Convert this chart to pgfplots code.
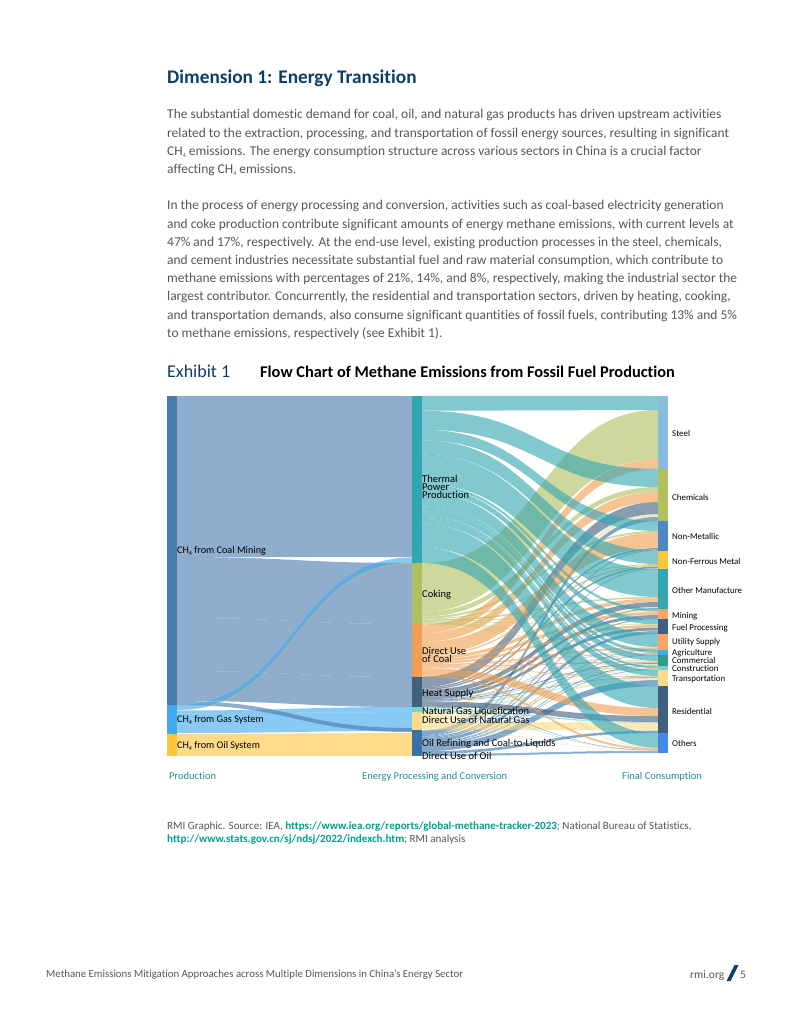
\documentclass[border=0pt]{standalone}
\usepackage{fontspec}
\setmainfont[Ligatures=NoCommon]{Carlito}
\usepackage{pgfplots}
\pgfplotsset{compat=1.18}

% node colours
\definecolor{cCoalM}{HTML}{4A7BAD}
\definecolor{cGas}{HTML}{3FAAEE}
\definecolor{cOil}{HTML}{FFC53D}
\definecolor{cTherm}{HTML}{33A6B2}
\definecolor{cCoke}{HTML}{B0BF60}
\definecolor{cCoal}{HTML}{F0A050}
\definecolor{cHeat}{HTML}{406080}
\definecolor{cLng}{HTML}{7CD0D0}
\definecolor{cDng}{HTML}{F8DC8C}
\definecolor{cRef}{HTML}{3872A8}
\definecolor{cDoil}{HTML}{3B82C4}
\definecolor{cSteel}{HTML}{8ABBDD}
\definecolor{cNonM}{HTML}{4F88BF}
\definecolor{cMining}{HTML}{F8A868}
\definecolor{cUtil}{HTML}{FFA566}
\definecolor{cComm}{HTML}{339A90}
\definecolor{cOthers}{HTML}{4488EE}
\definecolor{navy}{HTML}{0F3D66}
\definecolor{bodygray}{HTML}{55565A}
\definecolor{tealtxt}{HTML}{1F8F8F}
\definecolor{linktxt}{HTML}{00A08A}

% ribbon: x0 x1 left-top left-bottom right-top right-bottom colour
\newcommand{\ribbon}[7]{%
  \pgfmathsetmacro\xm{(#1+#2)/2}%
  \edef\flowtmp{\noexpand\addplot[fill=#7, fill opacity=0.62, draw=none] coordinates {(#1,#3)}
    .. controls (axis cs:\xm,#3) and (axis cs:\xm,#5) .. (axis cs:#2,#5)
    -- (axis cs:#2,#6) .. controls (axis cs:\xm,#6) and (axis cs:\xm,#4) .. (axis cs:#1,#4) -- cycle;}%
  \flowtmp}

% stacked flow, middle to right column, piled up from the bottom of each node:
% source target thickness colour
\newcommand{\flow}[4]{%
  \pgfmathsetmacro\aB{\csname s#1\endcsname}%
  \pgfmathsetmacro\aT{\aB-#3*\csname k#1\endcsname}%
  \pgfmathsetmacro\bB{\csname t#2\endcsname}%
  \pgfmathsetmacro\bT{\bB-#3}%
  \expandafter\xdef\csname s#1\endcsname{\aT}%
  \expandafter\xdef\csname t#2\endcsname{\bT}%
  \ribbon{422}{658}{\aT}{\aB}{\bT}{\bB}{#4}}

% node bar: x0 x1 top bottom colour
\newcommand{\nodebar}[5]{\addplot[fill=#5, draw=none] coordinates {(#1,#3) (#2,#3) (#2,#4) (#1,#4)} -- cycle;}

% text at baseline
\newcommand{\tl}[4]{\node[anchor=base west, inner sep=0pt, #3] at (axis cs:#1,#2) {#4};}
\newcommand{\para}[2]{\tl{167}{#1}{font=\fontsize{13.45}{14}\selectfont, text=bodygray}{#2}}
\newcommand{\nlab}[2]{\tl{177}{#1}{font=\fontsize{10.2}{10}\selectfont, text=black}{#2}}
\newcommand{\mlab}[2]{\tl{422}{#1}{font=\fontsize{10.5}{10}\selectfont, text=black}{#2}}
\newcommand{\rlab}[2]{\tl{672}{#1}{font=\fontsize{8.9}{10}\selectfont, text=black}{#2}}
\newcommand{\chq}{CH\raisebox{-2pt}{\fontsize{6}{6}\selectfont 4}}

% bottom of each source and target stack, source scale
\def\sT{563}\def\kT{1.058}
\def\sCo{624}\def\kCo{0.987}
\def\sC{677}\def\kC{0.873}
\def\sH{707}\def\kH{0.882}
\def\sL{712}\def\kL{1.786}
\def\sD{730}\def\kD{1.11}
\def\sO{754.5}\def\kO{1.089}
\def\sP{756}\def\kP{1}
\def\tsteel{469}\def\tchem{521}\def\tnonm{550.5}\def\tnfm{569}\def\tother{609}
\def\tmine{619}\def\tfuel{634}\def\tutil{650}\def\tagr{655}\def\tcomm{666}
\def\tcon{670}\def\ttrans{686}\def\tres{733}\def\toth{753}

\begin{document}
\begin{tikzpicture}
\useasboundingbox (0,0) rectangle (791pt,1024pt);
\begin{axis}[
    at={(0pt,0pt)}, anchor=south west,
    scale only axis, width=791pt, height=1024pt,
    xmin=0, xmax=791, ymin=0, ymax=1024,
    y dir=reverse, hide axis, clip=false,
]
% page text
\tl{167}{84}{font=\fontsize{19.3}{20}\selectfont\bfseries, text=navy}{Dimension 1: Energy Transition}
\para{119}{The substantial domestic demand for coal, oil, and natural gas products has driven upstream activities}
\para{138}{related to the extraction, processing, and transportation of fossil energy sources, resulting in significant}
\para{156}{\chq{} emissions. The energy consumption structure across various sectors in China is a crucial factor}
\para{174}{affecting \chq{} emissions.}
\para{210}{In the process of energy processing and conversion, activities such as coal-based electricity generation}
\para{229}{and coke production contribute significant amounts of energy methane emissions, with current levels at}
\para{247}{47\% and 17\%, respectively. At the end-use level, existing production processes in the steel, chemicals,}
\para{265}{and cement industries necessitate substantial fuel and raw material consumption, which contribute to}
\para{283}{methane emissions with percentages of 21\%, 14\%, and 8\%, respectively, making the industrial sector the}
\para{301}{largest contributor. Concurrently, the residential and transportation sectors, driven by heating, cooking,}
\para{319}{and transportation demands, also consume significant quantities of fossil fuels, contributing 13\% and 5\%}
\para{337}{to methane emissions, respectively (see Exhibit 1).}
\tl{167}{377}{font=\fontsize{18}{20}\selectfont, text=navy}{Exhibit 1}
\tl{260}{377}{font=\fontsize{16.35}{18}\selectfont\bfseries, text=black}{Flow Chart of Methane Emissions from Fossil Fuel Production}

% production to processing
\ribbon{177}{412}{396}{557}{396}{557}{cCoalM}
\ribbon{177}{412}{557}{618}{563}{624}{cCoalM}
\ribbon{177}{412}{618}{671}{624}{677}{cCoalM}
\ribbon{177}{412}{671}{701}{677}{707}{cCoalM}
\ribbon{177}{412}{710.5}{713.5}{707}{712}{cGas}
\ribbon{177}{412}{713.5}{733}{712}{731}{cGas}
\ribbon{177}{412}{701}{705}{728}{732}{cCoalM}
\ribbon{177}{412}{734}{756}{733}{756}{cOil}
\ribbon{177}{412}{705}{710}{557.5}{563}{cGas}
\ribbon{177}{412}{710}{710.5}{563}{563.5}{cOil}

% processing to consumption, last drawn lies on top
\flow{P}{oth}{1.5}{cDoil}

\flow{O}{oth}{0.5}{cRef}
\flow{O}{res}{2.5}{cRef}
\flow{O}{trans}{6}{cRef}
\flow{O}{con}{0.5}{cRef}
\flow{O}{comm}{0.7}{cRef}
\flow{O}{agr}{0.6}{cRef}
\flow{O}{util}{0.5}{cRef}
\flow{O}{fuel}{3}{cRef}
\flow{O}{mine}{1}{cRef}
\flow{O}{other}{1}{cRef}
\flow{O}{nfm}{0.7}{cRef}
\flow{O}{nonm}{0.8}{cRef}
\flow{O}{chem}{4.2}{cRef}

\flow{D}{oth}{0.4}{cDng}
\flow{D}{res}{7.5}{cDng}
\flow{D}{trans}{2}{cDng}
\flow{D}{con}{0.3}{cDng}
\flow{D}{comm}{1}{cDng}
\flow{D}{agr}{0.3}{cDng}
\flow{D}{util}{0.2}{cDng}
\flow{D}{fuel}{0.5}{cDng}
\flow{D}{other}{1}{cDng}
\flow{D}{nfm}{0.3}{cDng}
\flow{D}{nonm}{0.2}{cDng}
\flow{D}{chem}{2.5}{cDng}

\flow{L}{oth}{0.3}{cLng}
\flow{L}{res}{1}{cLng}
\flow{L}{trans}{0.5}{cLng}
\flow{L}{con}{0.2}{cLng}
\flow{L}{comm}{0.5}{cLng}
\flow{L}{chem}{0.3}{cLng}

\flow{H}{oth}{0.4}{cHeat}
\flow{H}{res}{6}{cHeat}
\flow{H}{trans}{0.5}{cHeat}
\flow{H}{con}{0.2}{cHeat}
\flow{H}{comm}{0.8}{cHeat}
\flow{H}{agr}{0.3}{cHeat}
\flow{H}{util}{0.3}{cHeat}
\flow{H}{fuel}{3}{cHeat}
\flow{H}{mine}{3}{cHeat}
\flow{H}{other}{5}{cHeat}
\flow{H}{nfm}{1.5}{cHeat}
\flow{H}{nonm}{1.5}{cHeat}
\flow{H}{chem}{12}{cHeat}

\flow{C}{oth}{2}{cCoal}
\flow{C}{res}{8}{cCoal}
\flow{C}{trans}{0.7}{cCoal}
\flow{C}{con}{0.4}{cCoal}
\flow{C}{comm}{1.5}{cCoal}
\flow{C}{agr}{0.6}{cCoal}
\flow{C}{util}{1.5}{cCoal}
\flow{C}{fuel}{2.5}{cCoal}
\flow{C}{mine}{3}{cCoal}
\flow{C}{other}{3.5}{cCoal}
\flow{C}{nfm}{1.5}{cCoal}
\flow{C}{nonm}{15}{cCoal}
\flow{C}{chem}{10}{cCoal}
\flow{C}{steel}{10}{cCoal}

\flow{Co}{oth}{0.3}{cCoke}
\flow{Co}{trans}{0.3}{cCoke}
\flow{Co}{con}{0.2}{cCoke}
\flow{Co}{comm}{0.5}{cCoke}
\flow{Co}{agr}{0.2}{cCoke}
\flow{Co}{util}{0.5}{cCoke}
\flow{Co}{fuel}{0.5}{cCoke}
\flow{Co}{mine}{0.5}{cCoke}
\flow{Co}{other}{1.5}{cCoke}
\flow{Co}{nfm}{1}{cCoke}
\flow{Co}{nonm}{2}{cCoke}
\flow{Co}{chem}{5}{cCoke}
\flow{Co}{steel}{49}{cCoke}

\flow{T}{oth}{14.5}{cTherm}
\flow{T}{res}{22}{cTherm}
\flow{T}{trans}{6}{cTherm}
\flow{T}{con}{1.9}{cTherm}
\flow{T}{comm}{6}{cTherm}
\flow{T}{agr}{3}{cTherm}
\flow{T}{util}{13}{cTherm}
\flow{T}{fuel}{5.5}{cTherm}
\flow{T}{mine}{2.5}{cTherm}
\flow{T}{other}{28}{cTherm}
\flow{T}{nfm}{13.5}{cTherm}
\flow{T}{nonm}{10}{cTherm}
\flow{T}{chem}{18}{cTherm}
\flow{T}{steel}{14}{cTherm}

% nodes
\nodebar{167}{177}{396}{705}{cCoalM}
\nodebar{167}{177}{705}{734}{cGas}
\nodebar{167}{177}{734}{756}{cOil}
\nodebar{412}{422}{396}{563}{cTherm}
\nodebar{412}{422}{563}{624}{cCoke}
\nodebar{412}{422}{624}{677}{cCoal}
\nodebar{412}{422}{677}{707}{cHeat}
\nodebar{412}{422}{707}{712}{cLng}
\nodebar{412}{422}{712}{730}{cDng}
\nodebar{412}{422}{730}{754.5}{cRef}
\nodebar{412}{422}{754.5}{756}{cDoil}
\nodebar{658}{668}{396}{469}{cSteel}
\nodebar{658}{668}{469}{521}{cCoke}
\nodebar{658}{668}{521}{550.5}{cNonM}
\nodebar{658}{668}{550.5}{569}{cOil}
\nodebar{658}{668}{569}{609}{cTherm}
\nodebar{658}{668}{609}{619}{cMining}
\nodebar{658}{668}{619}{634}{cHeat}
\nodebar{658}{668}{634}{650}{cUtil}
\nodebar{658}{668}{650}{655}{cGas}
\nodebar{658}{668}{655}{666}{cComm}
\nodebar{658}{668}{666}{670}{cLng}
\nodebar{658}{668}{670}{686}{cDng}
\nodebar{658}{668}{686}{733}{cHeat}
\nodebar{658}{668}{733}{753}{cOthers}

% node labels
\nlab{553}{\chq{} from Coal Mining}
\nlab{722}{\chq{} from Gas System}
\nlab{748}{\chq{} from Oil System}
\mlab{482}{Thermal}
\mlab{490}{Power}
\mlab{498}{Production}
\mlab{597}{Coking}
\mlab{654}{Direct Use}
\mlab{662}{of Coal}
\mlab{696}{Heat Supply}
\mlab{714}{Natural Gas Liquefication}
\mlab{723}{Direct Use of Natural Gas}
\mlab{746}{Oil Refining and Coal-to-Liquids}
\mlab{759}{Direct Use of Oil}
\rlab{436}{Steel}
\rlab{500}{Chemicals}
\rlab{539}{Non-Metallic}
\rlab{564}{Non-Ferrous Metal}
\rlab{593}{Other Manufacture}
\rlab{618}{Mining}
\rlab{630}{Fuel Processing}
\rlab{644}{Utility Supply}
\rlab{655}{Agriculture}
\rlab{663}{Commercial}
\rlab{671}{Construction}
\rlab{681}{Transportation}
\rlab{714}{Residential}
\rlab{746}{Others}

% column names
\tl{169}{779}{font=\fontsize{10.5}{11}\selectfont, text=tealtxt}{Production}
\tl{362}{779}{font=\fontsize{10.5}{11}\selectfont, text=tealtxt}{Energy Processing and Conversion}
\tl{622}{779}{font=\fontsize{10.5}{11}\selectfont, text=tealtxt}{Final Consumption}

% source
\tl{167}{829}{font=\fontsize{11.05}{12}\selectfont, text=bodygray}{RMI Graphic. Source: IEA, \textcolor{linktxt}{\textbf{https://www.iea.org/reports/global-methane-tracker-2023}}; National Bureau of Statistics,}
\tl{167}{842}{font=\fontsize{11.05}{12}\selectfont, text=bodygray}{\textcolor{linktxt}{\textbf{http://www.stats.gov.cn/sj/ndsj/2022/indexch.htm}}; RMI analysis}

% footer
\tl{46}{977}{font=\fontsize{10.8}{11}\selectfont, text=bodygray}{Methane Emissions Mitigation Approaches across Multiple Dimensions in China’s Energy Sector}
\tl{690}{978}{font=\fontsize{11.5}{12}\selectfont, text=bodygray}{rmi.org}
\tl{740}{978}{font=\fontsize{11.5}{12}\selectfont, text=bodygray}{5}
\addplot[fill=navy, draw=none] coordinates {(726.5,981) (730.5,981) (738.5,965) (734.5,965)} -- cycle;
\end{axis}
\end{tikzpicture}
\end{document}
